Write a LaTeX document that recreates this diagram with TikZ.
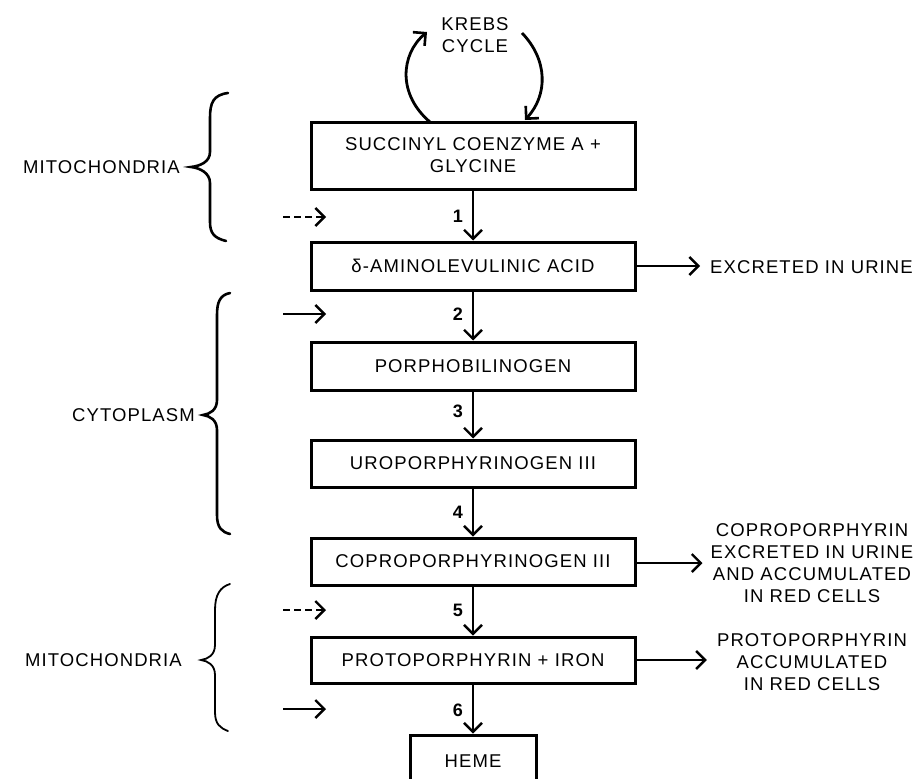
\documentclass[tikz,border=0pt]{standalone}
\usepackage{fontspec}
\setmainfont{Liberation Sans}[LetterSpace=6]
\usetikzlibrary{arrows.meta}
\begin{document}
\begin{tikzpicture}[x=1pt,y=-1pt,
  txt/.style={font=\fontsize{18.5}{22}\selectfont, inner sep=0pt, align=center},
  box/.style={draw, line width=3pt, minimum width=324pt, inner sep=0pt, txt},
  flow/.style={line width=2.4pt, -{Straight Barb[length=9pt,width=18pt,line width=2.4pt]}},
  sidearrow/.style={flow},
  dasharrow/.style={flow, dash pattern=on 7pt off 4pt},
  num/.style={font=\fontsize{18}{20}\selectfont\bfseries, inner sep=0pt, anchor=east},
  bracepath/.style={line width=2.6pt, line cap=round},
  cyc/.style={line width=2.8pt, -{Straight Barb[length=9pt,width=18pt,line width=2.6pt]}}]
\useasboundingbox (0,0) rectangle (921,779);

% Krebs cycle
\node[txt] (krebs) at (475,35) {KREBS\\CYCLE};

% main boxes
\node[box, minimum height=67pt] (b1) at (473,155.5) {SUCCINYL COENZYME A +\\GLYCINE};
\node[box, minimum height=48pt] (b2) at (473,266) {δ-AMINOLEVULINIC ACID};
\node[box, minimum height=48pt] (b3) at (473,366) {PORPHOBILINOGEN};
\node[box, minimum height=47pt] (b4) at (473,463.5) {UROPORPHYRINOGEN III};
\node[box, minimum height=47pt] (b5) at (473,561.5) {COPROPORPHYRINOGEN III};
\node[box, minimum height=46pt] (b6) at (473,660) {PROTOPORPHYRIN + IRON};
\node[box, minimum width=126pt, minimum height=52pt] (heme) at (473,761) {HEME};

% Krebs cycle arcs
\coordinate (kl0) at (430,122);
\coordinate (kl1) at (427,32);
\coordinate (kr0) at (522,33);
\coordinate (kr1) at (525,120);
\draw[cyc] (kl0) .. controls (398,95) and (400,55) .. (kl1);
\draw[cyc] (kr0) .. controls (548,60) and (548,95) .. (kr1);

% flow arrows
\draw[flow] (b1) -- (b2);
\draw[flow] (b2) -- (b3);
\draw[flow] (b3) -- (b4);
\draw[flow] (b4) -- (b5);
\draw[flow] (b5) -- (b6);
\draw[flow] (b6) -- (heme);

% step numbers
\node[num] (n1) at (463,216) {1};
\node[num] (n2) at (463,314) {2};
\node[num] (n3) at (463,411) {3};
\node[num] (n4) at (463,512) {4};
\node[num] (n5) at (463,610) {5};
\node[num] (n6) at (463,710) {6};

% side arrows
\coordinate (s1a) at (283,217); \coordinate (s1b) at (326,217);
\coordinate (s2a) at (283,314); \coordinate (s2b) at (326,314);
\coordinate (s5a) at (283,610); \coordinate (s5b) at (326,610);
\coordinate (s6a) at (283,709); \coordinate (s6b) at (326,709);
\draw[dasharrow] (s1a) -- (s1b);
\draw[sidearrow] (s2a) -- (s2b);
\draw[dasharrow] (s5a) -- (s5b);
\draw[sidearrow] (s6a) -- (s6b);

% products
\node[txt, anchor=west] (ex) at (710,267) {EXCRETED IN URINE};
\node[txt] (copro) at (812,563) {COPROPORPHYRIN\\EXCRETED IN URINE\\AND ACCUMULATED\\IN RED CELLS};
\node[txt] (proto) at (812,662) {PROTOPORPHYRIN\\ACCUMULATED\\IN RED CELLS};
\draw[flow] (b2.east) -- ([xshift=-10pt]b2.east -| ex.west);
\draw[flow] (b5.east |- copro.west) -- ([xshift=-8pt]copro.west);
\draw[flow] (b6.east) -- ([xshift=-10pt]b6.east -| proto.west);

% compartments
\node[txt, anchor=east] (mito1) at (180,167) {MITOCHONDRIA};
\node[txt, anchor=east] (cyto) at (195,415) {CYTOPLASM};
\node[txt, anchor=east] (mito2) at (182,660) {MITOCHONDRIA};

\draw[bracepath] (228,93) .. controls (213,95) and (210,103) .. (210,118) -- (210,152)
  .. controls (210,162) and (200,166) .. (191,167)
  .. controls (200,168) and (210,173) .. (210,183) -- (210,222)
  .. controls (210,233) and (214,238) .. (226,241);
\draw[bracepath] (230,293) .. controls (220,295) and (217,302) .. (217,315) -- (217,400)
  .. controls (217,410) and (210,414) .. (203,415)
  .. controls (210,416) and (217,420) .. (217,430) -- (217,515)
  .. controls (217,528) and (222,532) .. (230,534);
\draw[bracepath, line width=1.8pt] (230,584) .. controls (220,587) and (215,595) .. (215,610) -- (215,645)
  .. controls (215,655) and (208,659) .. (201,660)
  .. controls (208,661) and (215,665) .. (215,675) -- (215,712)
  .. controls (215,724) and (220,728) .. (228,731);
\end{tikzpicture}
\end{document}
